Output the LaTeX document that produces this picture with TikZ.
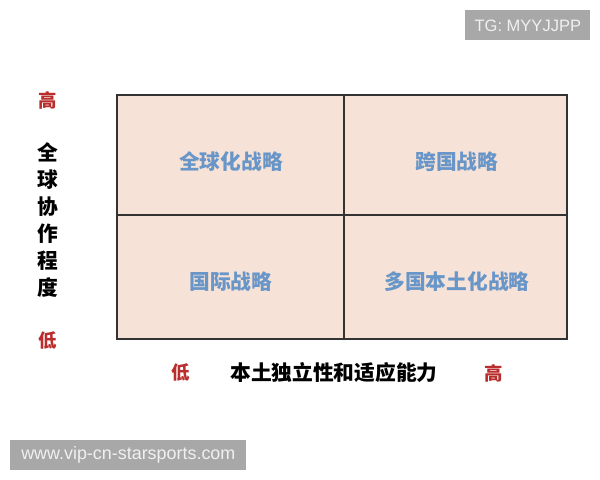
\documentclass[tikz,border=0pt]{standalone}
\usepackage{fontspec}
\setmainfont{Noto Sans CJK SC}
\newfontfamily\latinsans{Liberation Sans}
\definecolor{cellfill}{RGB}{246,226,214}
\definecolor{celltext}{RGB}{105,150,200}
\definecolor{levelred}{RGB}{185,45,45}
\definecolor{markgray}{RGB}{168,168,168}
\begin{document}
\begin{tikzpicture}[x=0.02cm, y=-0.02cm,
    quad/.style  = {text=celltext, font=\fontsize{11.8}{14}\selectfont\bfseries, inner sep=0},
    level/.style = {text=levelred, font=\fontsize{10.5}{12}\selectfont\bfseries, inner sep=0},
    axis/.style  = {text=black, font=\fontsize{11.8}{15.3}\selectfont\bfseries, inner sep=0, align=center},
    watermark/.style = {fill=markgray, text=white!94!black, font=\latinsans\fontsize{10.2}{12}\selectfont, inner sep=0, anchor=north west}]
    \useasboundingbox (0,0) rectangle (600,480);

    \fill[cellfill] (117,95) rectangle (567,339);
    \draw[line width=0.8pt, black!80] (117,95) rectangle (567,339);
    \draw[line width=0.8pt, black!80] (344,95) -- (344,339);
    \draw[line width=0.8pt, black!80] (117,215) -- (567,215);

    \node[quad] (global)  at (231,162) {全球化战略};
    \node[quad] (trans)   at (457,162) {跨国战略};
    \node[quad] (inter)   at (231,282) {国际战略};
    \node[quad] (multi)   at (457,282) {多国本土化战略};

    \node[level] (yhigh) at (48,100) {高};
    \node[level] (ylow)  at (48,341) {低};
    \node[axis]  (yaxis) at (48,220) {全\\球\\协\\作\\程\\度};

    \node[level] (xlow)  at (181,373) {低};
    \node[axis]  (xaxis) at (334,373) {本土独立性和适应能力};
    \node[level] (xhigh) at (494,373) {高};

    \node[watermark, font=\latinsans\fontsize{9.4}{11}\selectfont, minimum width=2.5cm, minimum height=0.6cm] (tg) at (465,10) {TG: MYYJJPP};
    \node[watermark, minimum width=4.72cm, minimum height=0.6cm] (www) at (10,440) {www.vip-cn-starsports.com};
\end{tikzpicture}
\end{document}
